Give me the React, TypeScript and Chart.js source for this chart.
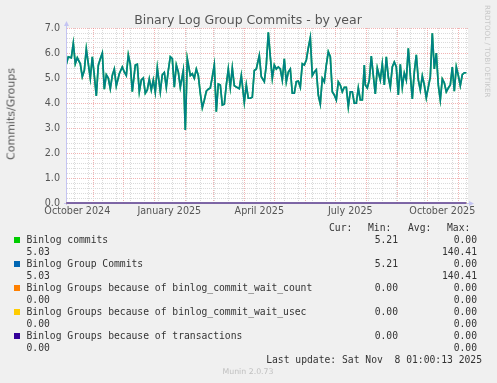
import React, { useEffect, useRef } from 'react';
import { Chart, registerables } from 'chart.js';

Chart.register(...registerables);

// Day offsets counted from 1 October 2024
const sampleDays = [
  4, 6, 9, 11, 13, 15, 18, 20, 22, 24, 26, 28, 30, 32, 34, 36, 38, 40, 42, 44, 46, 48, 50, 52, 54, 57, 60, 62, 64, 66,
  68, 70, 73, 75, 77, 79, 81, 83, 85, 87, 89, 91, 93, 95, 98, 100, 102,
  104, 106, 108, 110, 112, 114, 116, 118, 121, 123, 125, 128, 130, 132, 134, 136, 138, 140, 142, 144, 146, 148, 150,
  152, 154, 156, 158, 160, 162, 164, 166, 168, 170, 172, 174, 177, 179, 182, 184, 186, 188, 190, 192, 194, 197,
  199, 202, 204, 206, 208, 210, 212, 214, 216, 218, 220, 222, 224, 226, 228, 230, 232, 234, 236, 238, 240, 242, 244,
  246, 248, 250, 252, 254, 256, 258, 260, 262, 264, 266, 268, 270, 272, 274, 276, 278, 280, 282, 284, 286, 288, 290,
  292, 294, 296, 298, 300, 302,
  303, 305, 307, 309, 311, 313, 315, 318, 320, 322, 324, 326, 328, 330, 332, 334, 336, 338, 340, 342, 344, 346, 348,
  350, 352, 354, 356, 358, 360, 362, 364, 366, 368, 370, 372, 374, 376, 378, 380, 382, 384, 386, 388, 390, 392, 394,
  396, 398, 400, 402, 404,
];

const commitValues = [
  5.55, 5.85, 5.81, 6.39, 5.57, 5.81, 5.57, 5.05, 5.3, 6.16, 5.57, 4.99, 5.85, 5.1, 4.28, 5.5, 5.77, 6.0, 4.55, 5.13,
  5.0, 4.57, 5.1, 5.36, 4.68, 5.17, 5.44, 5.24, 5.1, 5.93,
  5.55, 4.45, 5.52, 5.55, 4.45, 4.92, 5.0, 4.39, 4.52, 4.96, 4.52, 4.92, 4.43, 5.41, 4.45, 5.13, 5.22,
  4.63, 5.3, 5.85, 5.77, 4.63, 5.52, 5.24, 4.63, 5.3, 2.92, 5.77, 5.1, 5.17, 4.99, 5.36, 5.1, 4.39, 3.81, 4.11, 4.47,
  4.55, 4.6, 5.04,
  5.52, 3.65, 4.76, 4.72, 3.92, 3.95, 4.72, 5.36, 4.63, 5.4, 4.69, 4.64, 4.57, 5.1, 4.03, 4.72, 4.19, 4.19, 4.23,
  5.3, 5.36, 5.9,
  5.05, 4.85, 5.52, 6.83, 5.85, 4.99, 5.52, 5.36, 5.44, 5.36, 4.92, 5.77, 4.85, 5.24, 5.36, 4.39, 4.39, 4.85, 4.88,
  4.63, 5.57, 5.52, 5.72,
  6.2, 6.61, 5.1, 5.24, 5.33, 4.32, 3.96, 4.99, 4.85, 5.52, 6.05, 5.85, 4.45, 4.32, 4.12, 4.85, 4.72, 4.45, 4.63,
  4.63, 3.85, 4.45, 4.45,
  3.99, 3.99, 4.6, 4.12, 4.12, 5.52,
  4.72, 4.6, 4.92, 5.88, 5.1, 4.36, 5.4, 4.92, 5.57, 4.72, 5.85, 5.04, 4.63, 5.44, 5.64, 5.44, 4.32, 5.55, 4.63, 5.2,
  4.92, 6.19, 5.13,
  4.16, 5.24, 5.93, 4.92, 4.52, 5.08, 4.72, 4.21, 4.63, 5.04, 6.79, 5.36, 6.0, 4.72, 4.12, 4.96, 4.81, 4.45, 4.6,
  4.72, 5.44, 4.47, 5.44,
  5.1, 4.69, 5.13, 5.21, 5.21,
];

const groupCommitValues = commitValues.slice();

const zeroSeriesDays = [4, 404];
const waitCountValues = [0, 0];
const waitUsecValues = [0, 0];
const transactionValues = [0, 0];

const monthStartDays = [31, 61, 92, 123, 151, 182, 212, 243, 273, 304, 335, 365, 396];
const minorGridDays = [
  12, 26, 40, 54, 68, 82, 96, 110, 124, 138, 152, 166, 180, 194, 208, 222, 236, 250, 264, 278, 292, 306, 320, 334,
  348, 362, 376, 390, 404,
];
const monthLabelDays = [15, 107, 197, 288, 380];
const monthLabels = ['October 2024', 'January 2025', 'April 2025', 'July 2025', 'October 2025'];

const yMajorValues = [0, 1, 2, 3, 4, 5, 6, 7];
const yTickLabels = ['0.0', '1.0', '2.0', '3.0', '4.0', '5.0', '6.0', '7.0'];

const seriesNames = [
  'Binlog commits',
  'Binlog Group Commits',
  'Binlog Groups because of binlog_commit_wait_count',
  'Binlog Groups because of binlog_commit_wait_usec',
  'Binlog Groups because of transactions',
];
const seriesColors = ['#00cc00', '#0066b3', '#ff8000', '#ffcc00', '#330099'];
const firstLineMid = ['5.21', '5.21', '0.00', '0.00', '0.00'];
const firstLineRight = ['0.00', '0.00', '0.00', '0.00', '0.00'];
const secondLineLeft = ['5.03', '5.03', '0.00', '0.00', '0.00'];
const secondLineRight = ['140.41', '140.41', '0.00', '0.00', '0.00'];

const X_MIN = 4.7;
const X_MAX = 405.7;

const toPoints = (xs: number[], ys: number[]) => xs.map((x, i) => ({ x, y: ys[i] }));

const framePlugin = {
  id: 'rrdFrame',
  beforeDraw(chart: any) {
    const { ctx, chartArea: a } = chart;
    ctx.save();
    ctx.fillStyle = '#f0f0f0';
    ctx.fillRect(0, 0, chart.width, chart.height);
    ctx.fillStyle = '#ffffff';
    ctx.fillRect(a.left, a.top, a.right - a.left, a.bottom - a.top);
    ctx.restore();
  },
  beforeDatasetsDraw(chart: any) {
    const { ctx, chartArea: a } = chart;
    ctx.save();
    ctx.strokeStyle = '#c4c4f2';
    ctx.fillStyle = '#c4c4f2';
    ctx.lineWidth = 1;
    ctx.beginPath();
    ctx.moveTo(a.left - 0.5, a.bottom + 2);
    ctx.lineTo(a.left - 0.5, a.top - 5);
    ctx.moveTo(a.left - 3, a.bottom + 0.5);
    ctx.lineTo(a.right + 2, a.bottom + 0.5);
    ctx.stroke();
    ctx.beginPath();
    ctx.moveTo(a.left - 3, a.top - 2);
    ctx.lineTo(a.left + 2, a.top - 2);
    ctx.lineTo(a.left - 0.5, a.top - 7);
    ctx.closePath();
    ctx.fill();
    ctx.beginPath();
    ctx.moveTo(a.right + 1, a.bottom - 2);
    ctx.lineTo(a.right + 1, a.bottom + 3);
    ctx.lineTo(a.right + 6, a.bottom + 0.5);
    ctx.closePath();
    ctx.fill();
    ctx.restore();
  },
};

const isMajorY = (v: number) => yMajorValues.some((m) => Math.abs(m - v) < 1e-6);

const MAJOR_GRID = 'rgba(232,130,130,0.6)';
const MINOR_GRID = '#dadada';

function ChartCanvas() {
  const ref = useRef<HTMLCanvasElement | null>(null);
  useEffect(() => {
    if (!ref.current) return;
    Chart.defaults.font.family = "'DejaVu Sans', sans-serif";
    const yTicks: number[] = [];
    for (let i = 0; i < yMajorValues.length - 1; i++) {
      for (let k = 0; k < 5; k++) yTicks.push(yMajorValues[i] + k * 0.2);
    }
    yTicks.push(yMajorValues[yMajorValues.length - 1]);
    const xTicks = [...minorGridDays, ...monthStartDays, ...monthLabelDays].sort((p, q) => p - q);

    const chart = new Chart(ref.current, {
      type: 'line',
      data: {
        datasets: [
          {
            label: seriesNames[0],
            data: toPoints(sampleDays, commitValues),
            borderColor: '#00cc00',
            borderWidth: 1.7,
            pointRadius: 0,
            tension: 0,
            order: 5,
          },
          {
            label: seriesNames[1],
            data: toPoints(sampleDays, groupCommitValues),
            borderColor: 'rgba(0,102,179,0.74)',
            borderWidth: 1.7,
            pointRadius: 0,
            tension: 0,
            order: 4,
          },
          {
            label: seriesNames[2],
            data: toPoints(zeroSeriesDays, waitCountValues),
            borderColor: '#ff8000',
            borderWidth: 1,
            pointRadius: 0,
            clip: false,
            order: 3,
          },
          {
            label: seriesNames[3],
            data: toPoints(zeroSeriesDays, waitUsecValues),
            borderColor: '#ffcc00',
            borderWidth: 1,
            pointRadius: 0,
            clip: false,
            order: 2,
          },
          {
            label: seriesNames[4],
            data: toPoints(zeroSeriesDays, transactionValues),
            borderColor: '#5548c8',
            borderWidth: 1.4,
            pointRadius: 0,
            clip: false,
            order: 1,
          },
        ] as any,
      },
      options: {
        responsive: false,
        animation: false,
        devicePixelRatio: 1,
        layout: { padding: { left: 0, top: 28, right: 29, bottom: 0 } },
        plugins: { legend: { display: false }, tooltip: { enabled: false }, title: { display: false } },
        scales: {
          x: {
            type: 'linear',
            min: X_MIN,
            max: X_MAX,
            afterFit: (s: any) => {
              s.height = 180;
            },
            afterBuildTicks: (s: any) => {
              s.ticks = xTicks.map((value) => ({ value }));
            },
            border: { display: false, dash: [1, 1] },
            grid: {
              drawTicks: false,
              color: (c: any) => (monthStartDays.includes(c.tick?.value) ? MAJOR_GRID : MINOR_GRID),
              lineWidth: (c: any) => (monthLabelDays.includes(c.tick?.value) ? 0 : 1),
            },
            ticks: {
              autoSkip: false,
              maxRotation: 0,
              minRotation: 0,
              padding: 3,
              color: '#555555',
              font: { size: 9.6 },
              callback: (v: any) => {
                const i = monthLabelDays.indexOf(Number(v));
                return i >= 0 ? monthLabels[i] : '';
              },
            },
          },
          y: {
            type: 'linear',
            min: 0,
            max: 7,
            afterFit: (s: any) => {
              s.width = 67;
            },
            afterBuildTicks: (s: any) => {
              s.ticks = yTicks.map((value) => ({ value }));
            },
            border: { display: false, dash: [1, 1] },
            grid: {
              drawTicks: false,
              color: (c: any) => (isMajorY(c.tick?.value) ? MAJOR_GRID : MINOR_GRID),
            },
            ticks: {
              autoSkip: false,
              padding: 7,
              color: '#555555',
              font: { size: 9.6 },
              callback: (v: any) => {
                const i = yMajorValues.findIndex((m) => Math.abs(m - Number(v)) < 1e-6);
                return i >= 0 ? yTickLabels[i] : '';
              },
            },
          },
        },
      },
      plugins: [framePlugin],
    });
    return () => chart.destroy();
  }, []);
  return <canvas ref={ref} width={497} height={383} style={{ position: 'absolute', left: 0, top: 0, width: 497, height: 383 }} />;
}

const mono = "'DejaVu Sans Mono', monospace";
const legendRowY = [240, 264, 288, 312, 336];

export default function App() {
  const text = (
    content: string,
    left: number,
    y: number,
    extra: React.CSSProperties = {}
  ): React.CSSProperties => ({
    position: 'absolute',
    left,
    top: y - 6,
    lineHeight: '12px',
    fontFamily: mono,
    fontSize: '9.7px',
    color: '#333',
    whiteSpace: 'pre',
    ...extra,
  });
  const rightText = (right: number, y: number): React.CSSProperties => ({
    position: 'absolute',
    right: 497 - right,
    top: y - 6,
    lineHeight: '12px',
    fontFamily: mono,
    fontSize: '9.7px',
    color: '#333',
    whiteSpace: 'pre',
    textAlign: 'right',
  });
  return (
    <div style={{ position: 'absolute', left: 0, top: 0, width: 497, height: 383, background: '#f0f0f0', overflow: 'hidden' }}>
      <ChartCanvas />
      <div
        style={{
          position: 'absolute',
          left: 0,
          width: 496,
          top: 12,
          textAlign: 'center',
          fontFamily: "'DejaVu Sans', sans-serif",
          fontSize: '12.5px',
          lineHeight: '15px',
          color: '#555',
          whiteSpace: 'nowrap',
        }}
      >
        Binary Log Group Commits - by year
      </div>
      <div
        style={{
          position: 'absolute',
          left: 11,
          top: 114,
          transform: 'translate(-50%, -50%) rotate(-90deg)',
          fontFamily: "'DejaVu Sans', sans-serif",
          fontSize: '11px',
          lineHeight: '13px',
          color: '#555',
          whiteSpace: 'nowrap',
        }}
      >
        Commits/Groups
      </div>
      <div
        style={{
          position: 'absolute',
          left: 483,
          top: 5,
          writingMode: 'vertical-rl',
          fontFamily: "'DejaVu Sans', sans-serif",
          fontSize: '7.2px',
          lineHeight: '9px',
          color: '#c8c8c8',
          whiteSpace: 'nowrap',
        }}
      >
        RRDTOOL / TOBI OETIKER
      </div>
      <div style={text('Cur:', 329, 228)}>Cur:</div>
      <div style={text('Min:', 368, 228)}>Min:</div>
      <div style={text('Avg:', 408, 228)}>Avg:</div>
      <div style={text('Max:', 447, 228)}>Max:</div>
      {seriesNames.map((name, i) => {
        const y = legendRowY[i];
        return (
          <React.Fragment key={name}>
            <div style={{ position: 'absolute', left: 14, top: y - 3, width: 6, height: 6, background: seriesColors[i] }} />
            <div style={text(name, 26.5, y)}>{name}</div>
            <div style={rightText(398, y)}>{firstLineMid[i]}</div>
            <div style={rightText(477, y)}>{firstLineRight[i]}</div>
            <div style={text(secondLineLeft[i], 26.5, y + 12)}>{secondLineLeft[i]}</div>
            <div style={rightText(477, y + 12)}>{secondLineRight[i]}</div>
          </React.Fragment>
        );
      })}
      <div style={rightText(482, 359.5)}>Last update: Sat Nov  8 01:00:13 2025</div>
      <div
        style={{
          position: 'absolute',
          left: 0,
          width: 496,
          top: 366,
          textAlign: 'center',
          fontFamily: "'DejaVu Sans', sans-serif",
          fontSize: '7.8px',
          lineHeight: '11px',
          color: '#c0c0c0',
        }}
      >
        Munin 2.0.73
      </div>
    </div>
  );
}
